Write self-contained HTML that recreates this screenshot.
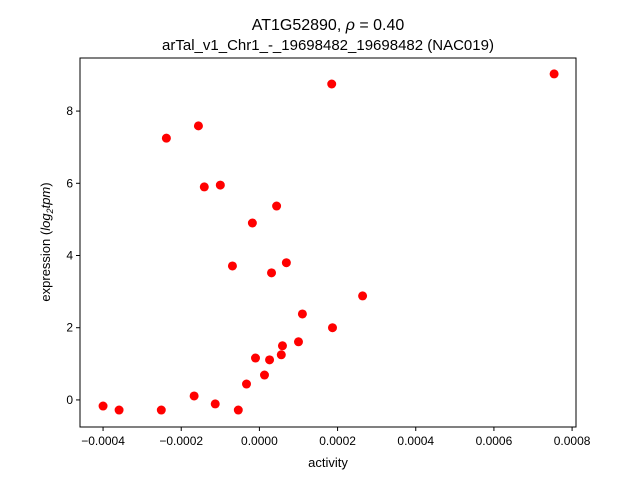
<!DOCTYPE html>
<html><head><meta charset="utf-8"><style>
body{margin:0;background:#fff;}
svg{display:block;font-family:"Liberation Sans","DejaVu Sans",sans-serif;}
</style></head><body>
<svg id="chart" width="640" height="480" viewBox="0 0 640 480">
<rect width="640" height="480" fill="#fff"/>
<text x="328" y="30" text-anchor="middle" font-size="16">AT1G52890, <tspan font-style="italic">ρ</tspan> = 0.40</text>
<text x="328" y="50" text-anchor="middle" font-size="15">arTal_v1_Chr1_-_19698482_19698482 (NAC019)</text>
<g id="ticks"></g>
<g id="points"></g>
<rect x="80" y="58" width="496" height="369" fill="none" stroke="#000" stroke-width="1"/>
<text x="328" y="467" text-anchor="middle" font-size="13">activity</text>
<text transform="translate(50,242) rotate(-90)" text-anchor="middle" font-size="13">expression (<tspan font-style="italic">log</tspan><tspan font-size="9" dy="3" font-style="italic">2</tspan><tspan dy="-3" font-style="italic">tpm</tspan>)</text>
</svg>
<script>
const activity=[-0.0004,-0.000359,-0.000251,-0.000238,-0.000156,-0.000167,-0.000141,-0.000113,-0.0001,-0.000069,-0.000054,-0.000033,-0.000018,-0.00001,0.000013,0.000026,0.000031,0.000044,0.000056,0.000059,0.000069,0.0001,0.00011,0.000185,0.000187,0.000264,0.000754];
const expression=[-0.17,-0.28,-0.28,7.25,7.59,0.11,5.9,-0.11,5.95,3.71,-0.28,0.44,4.9,1.16,0.69,1.11,3.52,5.37,1.25,1.5,3.8,1.61,2.38,8.75,2.0,2.88,9.03];
const xTicks=[-0.0004,-0.0002,0,0.0002,0.0004,0.0006,0.0008];
const xTickLabels=["−0.0004","−0.0002","0.0000","0.0002","0.0004","0.0006","0.0008"];
const yTicks=[0,2,4,6,8];
const xMin=-0.000459,xMax=0.00081,yMin=-0.75,yMax=9.47;
const L=80,R=576,T=58,B=427;
const sx=v=>L+(v-xMin)/(xMax-xMin)*(R-L);
const sy=v=>B-(v-yMin)/(yMax-yMin)*(B-T);
const NS="http://www.w3.org/2000/svg";
const tg=document.getElementById('ticks'),pg=document.getElementById('points');
xTicks.forEach((t,i)=>{
 const x=sx(t);
 const l=document.createElementNS(NS,'line');
 l.setAttribute('x1',x);l.setAttribute('x2',x);l.setAttribute('y1',B);l.setAttribute('y2',B+4);l.setAttribute('stroke','#000');
 
 
 tg.appendChild(l);
 const tx=document.createElementNS(NS,'text');
 tx.setAttribute('x',x);tx.setAttribute('y',B+18);tx.setAttribute('text-anchor','middle');tx.setAttribute('font-size','12');
 tx.textContent=xTickLabels[i];
 
 
 tg.appendChild(tx);
});
yTicks.forEach(t=>{
 const y=sy(t);
 const l=document.createElementNS(NS,'line');
 l.setAttribute('x1',L-4);l.setAttribute('x2',L);l.setAttribute('y1',y);l.setAttribute('y2',y);l.setAttribute('stroke','#000');
 
 
 tg.appendChild(l);
 const tx=document.createElementNS(NS,'text');
 tx.setAttribute('x',L-7);tx.setAttribute('y',y+4);tx.setAttribute('text-anchor','end');tx.setAttribute('font-size','12');
 tx.textContent=String(t);
 
 
 tg.appendChild(tx);
});
activity.forEach((a,i)=>{
 const c=document.createElementNS(NS,'circle');
 c.setAttribute('cx',sx(a));c.setAttribute('cy',sy(expression[i]));c.setAttribute('r','4.5');c.setAttribute('fill','#ff0000');
 
 
 pg.appendChild(c);
});
</script>
</body></html>
